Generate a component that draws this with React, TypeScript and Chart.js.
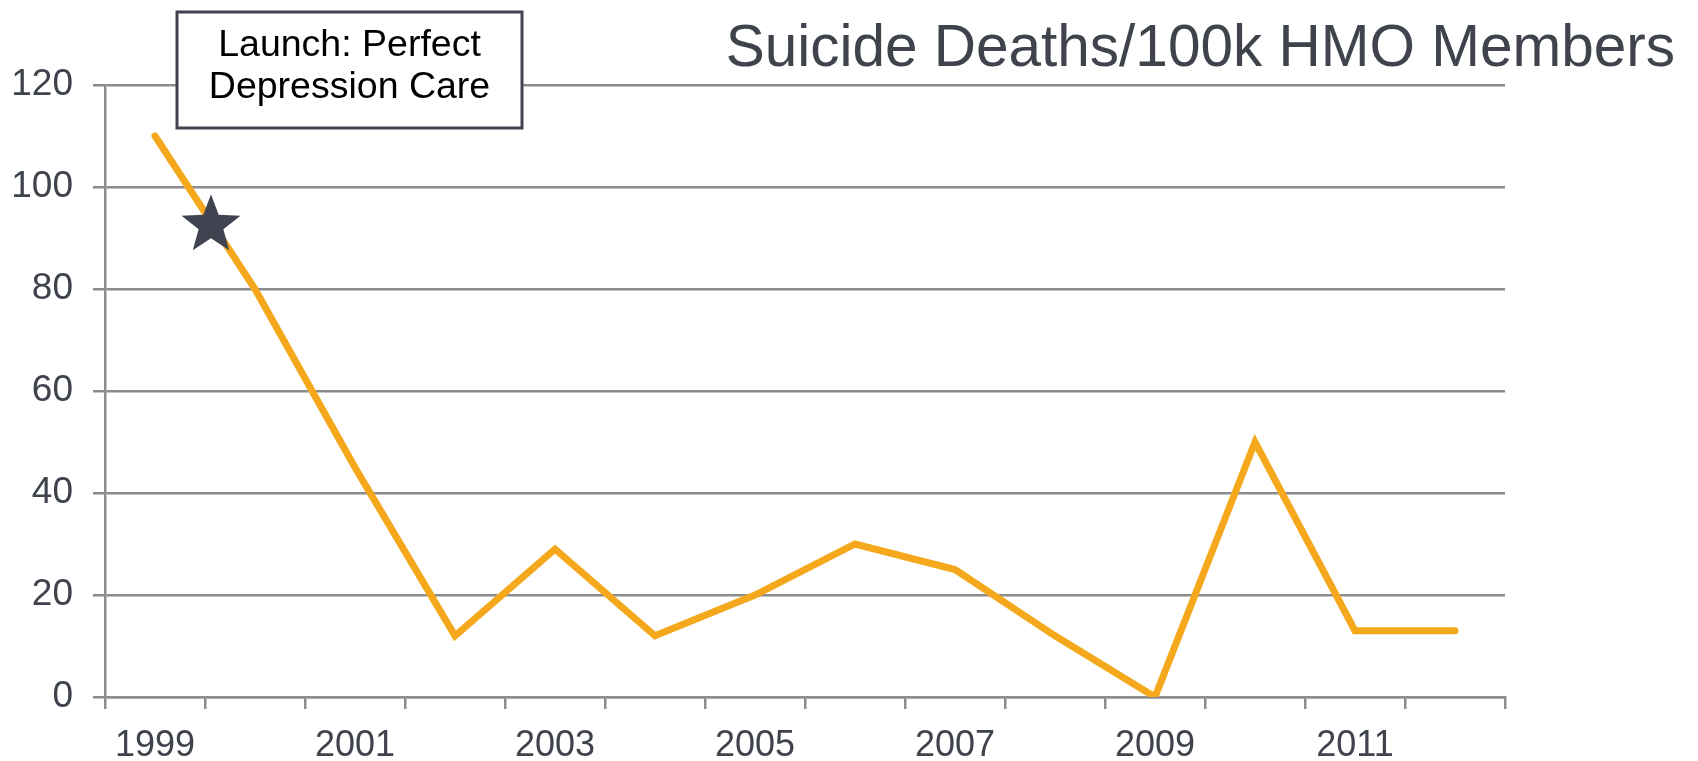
import React, { useEffect, useRef } from 'react';
import { Chart, registerables } from 'chart.js';

Chart.register(...registerables);

// ---- Data ----
const years = ['1999', '2000', '2001', '2002', '2003', '2004', '2005', '2006', '2007', '2008', '2009', '2010', '2011', '2012'];
const suicideDeathsPer100k = [110, 80, 45, 12, 29, 12, 20, 30, 25, 12, 0, 50, 13, 13];
const yTickValues = [0, 20, 40, 60, 80, 100, 120];
// Launch marker: fractional category index (between 1999 and 2000) and value
const launchMarkerIndex = [0.56];
const launchMarkerValue = [92.5];
const titleText = 'Suicide Deaths/100k HMO Members';
const annotationLines = ['Launch: Perfect', 'Depression Care'];

const FONT = '"Liberation Sans", Arial, Helvetica, sans-serif';
const TEXT_COLOR = '#3f434c';
const GRID_COLOR = '#8c8c8c';
const LINE_COLOR = '#F5A81C';

function drawStar(ctx: CanvasRenderingContext2D, cx: number, cy: number, R: number, r: number) {
  ctx.beginPath();
  for (let i = 0; i < 10; i++) {
    const rad = i % 2 === 0 ? R : r;
    const a = -Math.PI / 2 + (i * Math.PI) / 5;
    const px = cx + rad * Math.cos(a);
    const py = cy + rad * Math.sin(a);
    if (i === 0) ctx.moveTo(px, py);
    else ctx.lineTo(px, py);
  }
  ctx.closePath();
  ctx.fill();
}

const decorPlugin = {
  id: 'decor',
  afterDatasetsDraw(chart: any) {
    const ctx: CanvasRenderingContext2D = chart.ctx;
    const xs = chart.scales.x;
    const ys = chart.scales.y;
    ctx.save();
    ctx.fillStyle = '#404450';
    launchMarkerIndex.forEach((idx, i) => {
      const i0 = Math.floor(idx);
      const p0 = xs.getPixelForValue(i0);
      const p1 = xs.getPixelForValue(i0 + 1);
      const cx = p0 + (idx - i0) * (p1 - p0);
      const cy = ys.getPixelForValue(launchMarkerValue[i]);
      drawStar(ctx, cx, cy, 31, 13);
    });
    ctx.restore();
  },
  afterDraw(chart: any) {
    const ctx: CanvasRenderingContext2D = chart.ctx;
    ctx.save();
    // title
    ctx.fillStyle = TEXT_COLOR;
    ctx.font = `58.5px ${FONT}`;
    ctx.textAlign = 'right';
    ctx.textBaseline = 'alphabetic';
    ctx.fillText(titleText, 1675, 66);
    // annotation box
    const bx = 177, by = 12, bw = 345, bh = 116;
    ctx.fillStyle = '#ffffff';
    ctx.fillRect(bx, by, bw, bh);
    ctx.strokeStyle = '#404450';
    ctx.lineWidth = 3;
    ctx.strokeRect(bx, by, bw, bh);
    ctx.fillStyle = '#000000';
    ctx.font = `37.5px ${FONT}`;
    ctx.textAlign = 'center';
    ctx.fillText(annotationLines[0], bx + bw / 2, 56);
    ctx.fillText(annotationLines[1], bx + bw / 2, 98);
    ctx.restore();
  },
};

export default function App() {
  const canvasRef = useRef<HTMLCanvasElement | null>(null);

  useEffect(() => {
    if (!canvasRef.current) return;
    const chart = new Chart(canvasRef.current, {
      type: 'line',
      data: {
        labels: years,
        datasets: [
          {
            label: titleText,
            data: suicideDeathsPer100k,
            borderColor: LINE_COLOR,
            backgroundColor: LINE_COLOR,
            borderWidth: 7,
            pointRadius: 0,
            pointHoverRadius: 0,
            tension: 0,
            borderCapStyle: 'round',
            borderJoinStyle: 'miter',
            fill: false,
          },
        ],
      },
      options: {
        animation: false,
        responsive: true,
        maintainAspectRatio: false,
        layout: { padding: { left: 0, top: 85, right: 193, bottom: 0 } },
        plugins: {
          legend: { display: false },
          title: { display: false },
          tooltip: { enabled: false },
        },
        scales: {
          x: {
            type: 'category',
            offset: true,
            grid: {
              offset: true,
              drawOnChartArea: false,
              drawTicks: true,
              tickLength: 12,
              color: GRID_COLOR,
              lineWidth: 2.5,
            },
            border: { display: true, color: GRID_COLOR, width: 2.5 },
            ticks: {
              autoSkip: false,
              maxRotation: 0,
              minRotation: 0,
              padding: 15,
              color: TEXT_COLOR,
              font: { family: FONT, size: 36 },
              callback: (_v: any, idx: number) => (idx % 2 === 0 ? years[idx] : ''),
            },
            afterFit: (scale: any) => {
              scale.height = 64;
            },
          },
          y: {
            min: 0,
            max: 120,
            grid: {
              color: GRID_COLOR,
              lineWidth: 2.5,
              drawTicks: true,
              tickLength: 12,
            },
            border: { display: true, color: GRID_COLOR, width: 2.5 },
            ticks: {
              padding: 20,
              color: TEXT_COLOR,
              font: { family: FONT, size: 37 },
            },
            afterBuildTicks: (scale: any) => {
              scale.ticks = yTickValues.map((v) => ({ value: v }));
            },
            afterFit: (scale: any) => {
              scale.width = 105;
            },
          },
        },
      },
      plugins: [decorPlugin],
    });
    return () => chart.destroy();
  }, []);

  return (
    <div style={{ position: 'absolute', left: 0, top: 0, width: 1698, height: 761, background: '#ffffff' }}>
      <canvas ref={canvasRef} />
    </div>
  );
}
